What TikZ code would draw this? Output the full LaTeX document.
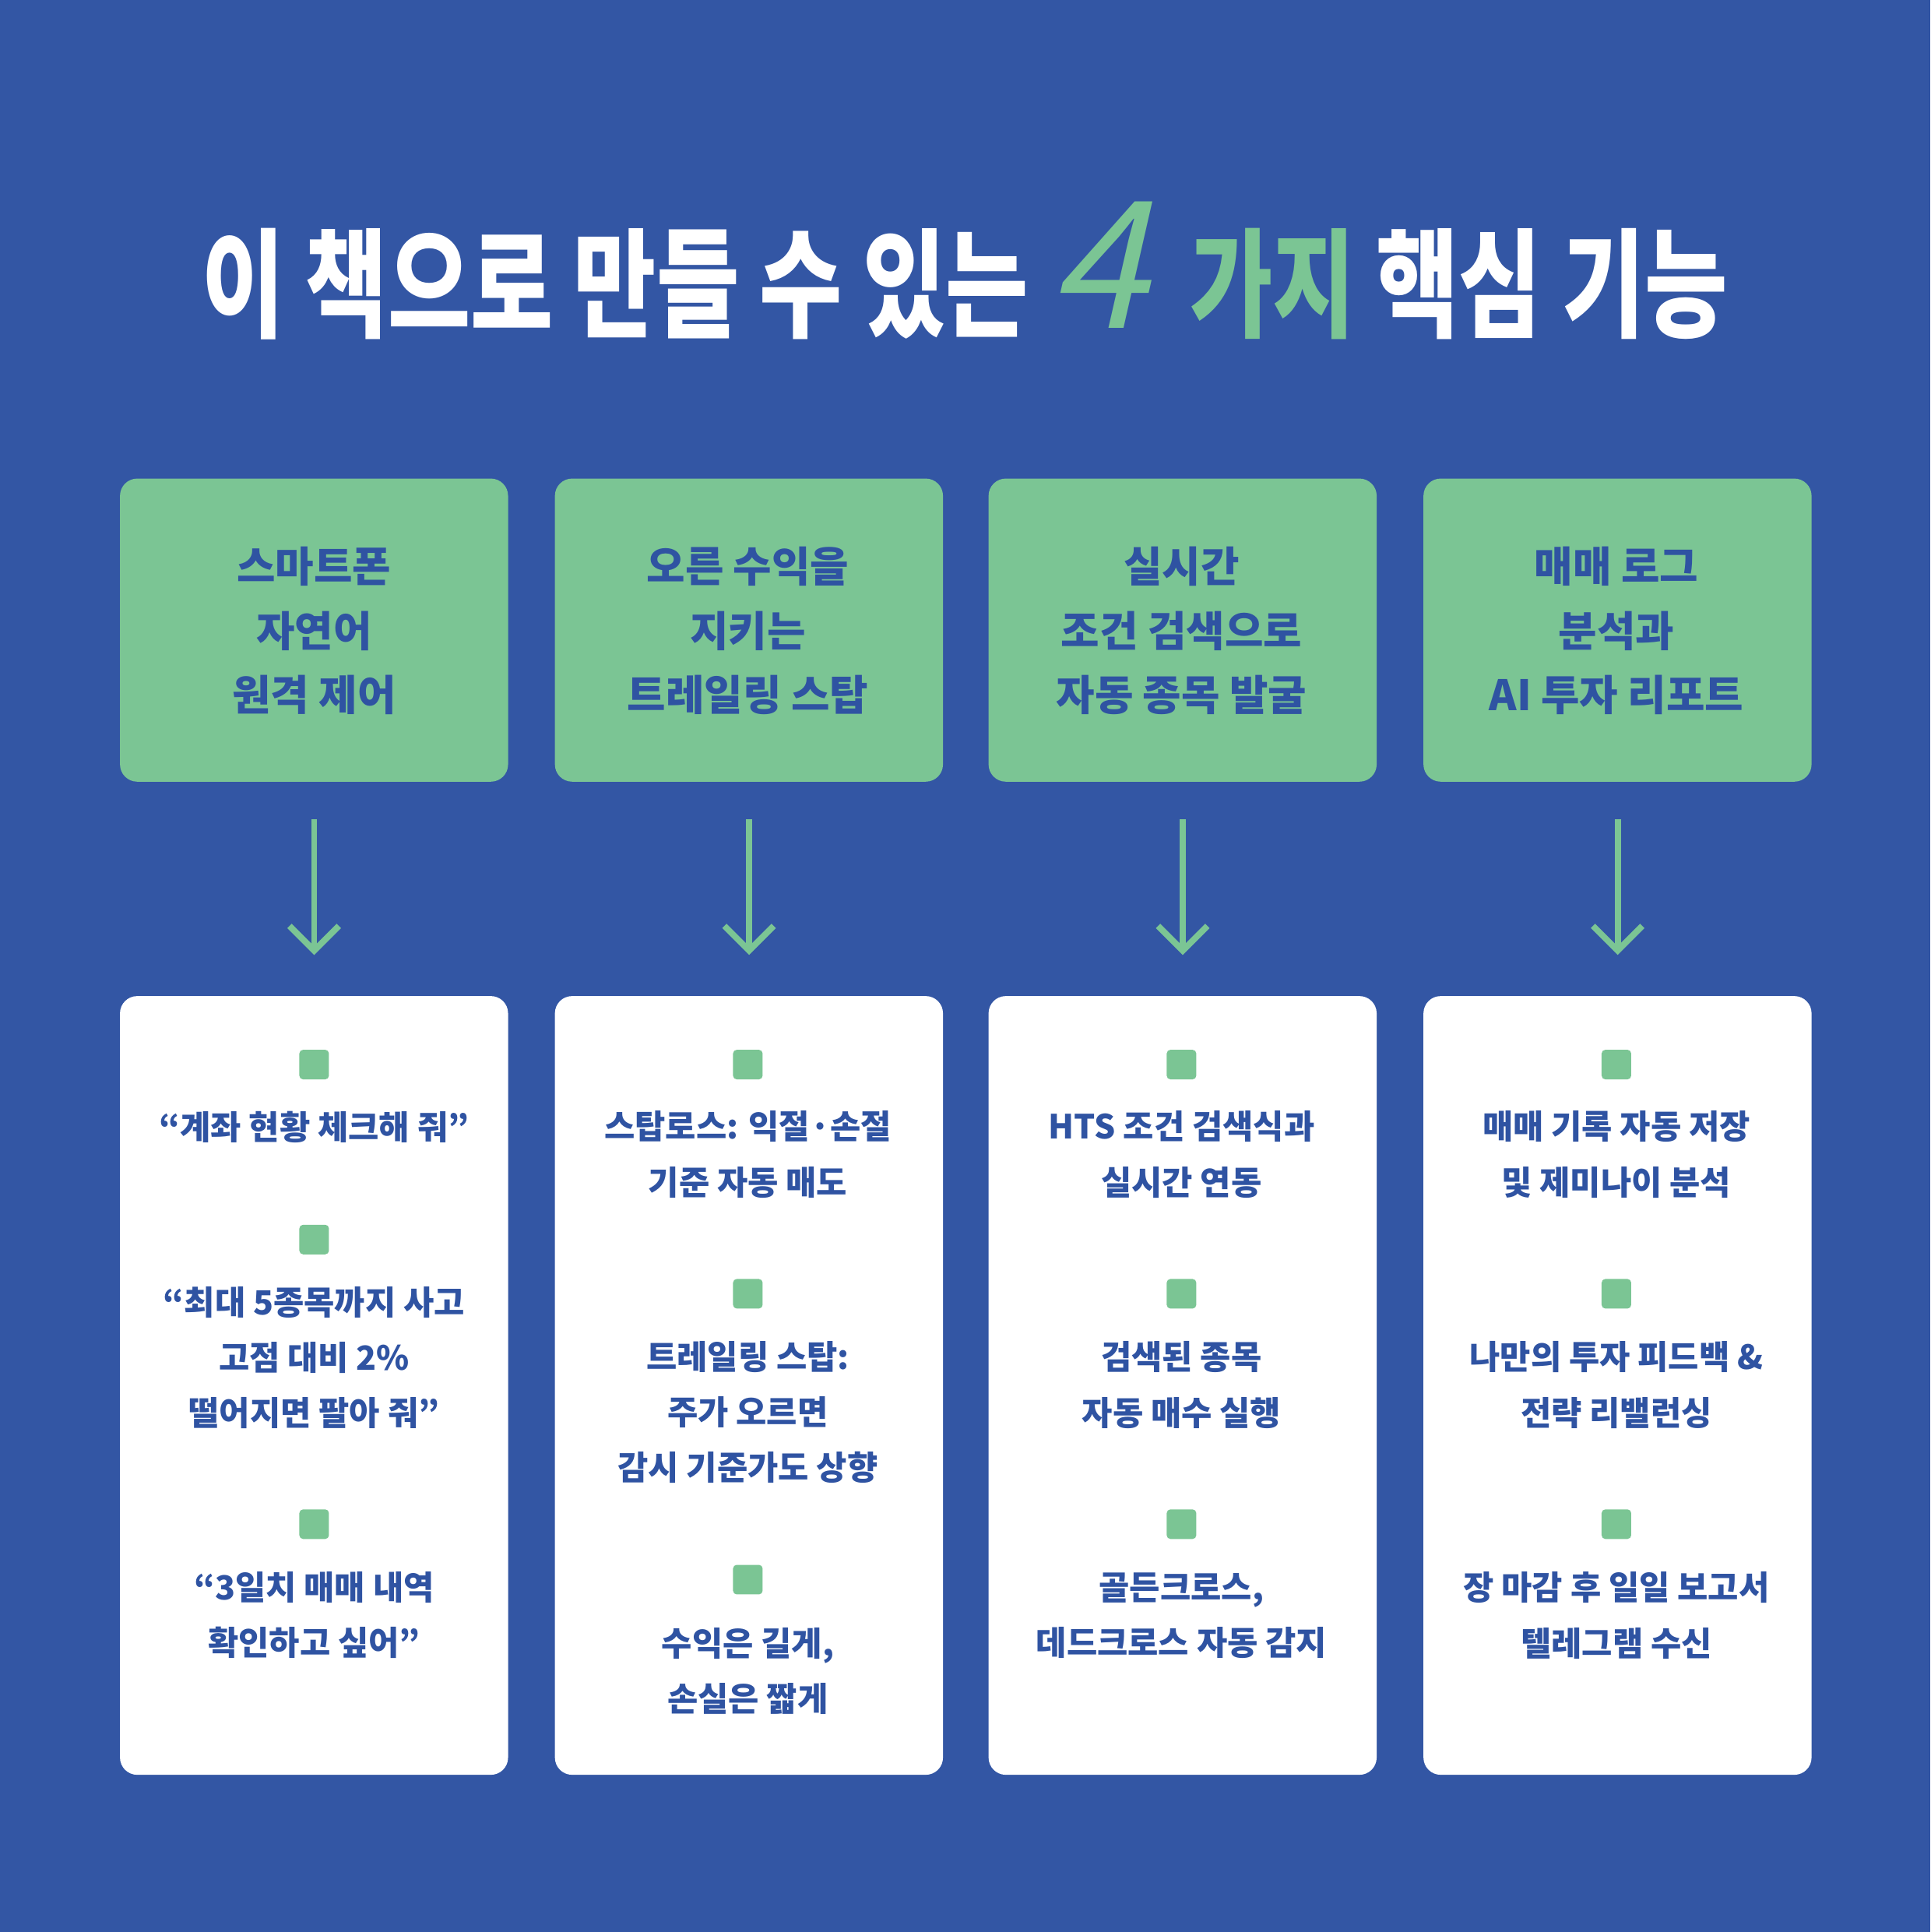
\documentclass[tikz,border=0pt]{standalone}
\usepackage{fontspec}
\setmainfont{Noto Sans CJK KR}
\usetikzlibrary{arrows.meta}
\definecolor{bg}{HTML}{3356A4}
\definecolor{gr}{HTML}{7BC594}
\definecolor{tx}{HTML}{2F53A2}
\begin{document}
\begin{tikzpicture}[x=0.5pt,y=-0.5pt,
 head/.style={fill=gr,rounded corners=7pt,minimum width=157.5pt,minimum height=123pt,anchor=north west,inner sep=0},
 body/.style={fill=white,rounded corners=7pt,minimum width=157.5pt,minimum height=316pt,anchor=north west,inner sep=0},
 ht/.style={text=tx,font=\bfseries\fontsize{17}{26}\selectfont,align=center},
 bt/.style={text=tx,font=\bfseries\fontsize{13.5}{22.5}\selectfont,align=center},
 sq/.style={fill=gr,minimum size=12pt,inner sep=0,rounded corners=1.5pt},
 arr/.style={draw=gr,line width=2.5pt,-{Straight Barb[length=10pt,width=20pt]}}]
\fill[bg] (0,0) rectangle (1567,1568);
\useasboundingbox (0,0) rectangle (1567,1568);
\node[font=\bfseries\fontsize{48}{50}\selectfont,text=white,inner sep=0,xscale=0.76] (title) at (783,220)
 {이 책으로 만들 수 있는 \textcolor{gr}{\tikz[baseline]\node[xslant=0.3,xscale=1.3,inner sep=0,font=\fontsize{72}{72}\selectfont\mdseries,anchor=base] {4};\,가지} 핵심 기능};
\foreach \i/\x in {1/97,2/450,3/802,4/1155}{
 \node[head] (h\i) at (\x,388) {};
 \node[body] (b\i) at (\x,808) {};
 \coordinate (a\i) at (\x+158,665);
 \coordinate (e\i) at (\x+158,775);
 \draw[arr] (a\i) -- (e\i);
}
\node[ht] (ht1) at (255,512) {스마트폰\\자연어\\원격 제어};
\node[ht] (ht2) at (607,512) {오른 수익을\\지키는\\트레일링 스탑};
\node[ht] (ht3) at (959,512) {실시간\\조건 검색으로\\자동 종목 발굴};
\node[ht] (ht4) at (1312,512) {매매 로그\\분석과\\AI 투자 리포트};
% column 1
\node[sq] (s11) at (255,864) {};
\node[bt] (t11) at (255,915) {“계좌 현황 체크해 줘”};
\node[sq] (s12) at (255,1006) {};
\node[bt] (t12) at (255,1102) {“최대 5종목까지 사고\\고점 대비 2\%\\떨어지면 팔아 줘”};
\node[sq] (s13) at (255,1237) {};
\node[bt] (t13) at (255,1311) {“3일치 매매 내역\\확인하고 싶어”};
% column 2
\node[sq] (s21) at (607,864) {};
\node[bt] (t21) at (607,937) {스탑로스: 익절·손절\\기준 자동 매도};
\node[sq] (s22) at (607,1050) {};
\node[bt] (t22) at (607,1146) {트레일링 스탑:\\주가 오르면\\감시 기준가도 상향};
\node[sq] (s23) at (607,1282) {};
\node[bt] (t23) at (607,1356) {수익은 길게,\\손실은 짧게};
% column 3
\node[sq] (s31) at (959,864) {};
\node[bt] (t31) at (959,937) {HTS 조건 검색식과\\실시간 연동};
\node[sq] (s32) at (959,1050) {};
\node[bt] (t32) at (959,1124) {검색된 종목\\자동 매수 실행};
\node[sq] (s33) at (959,1237) {};
\node[bt] (t33) at (959,1311) {골든크로스,\\데드크로스 자동 감지};
% column 4
\node[sq] (s41) at (1312,864) {};
\node[bt] (t41) at (1312,937) {매매 기록 자동 저장\\및 제미나이 분석};
\node[sq] (s42) at (1312,1050) {};
\node[bt] (t42) at (1312,1124) {나만의 투자 피드백 \&\\전략 리밸런싱};
\node[sq] (s43) at (1312,1237) {};
\node[bt] (t43) at (1312,1311) {장 마감 후 일일 보고서\\텔레그램 수신};
\end{tikzpicture}
\end{document}
